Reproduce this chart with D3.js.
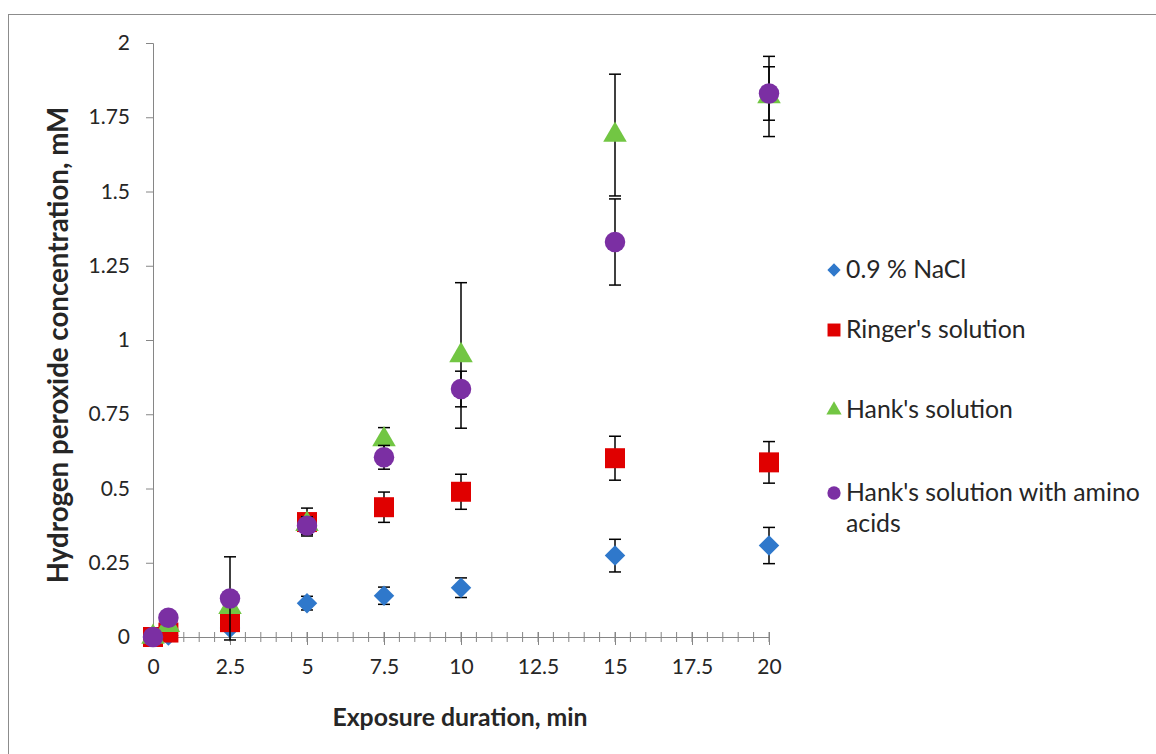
<!DOCTYPE html>
<html>
  <head>
    <meta charset="utf-8">
    <title>Hydrogen peroxide concentration</title>
    <script src="https://d3js.org/d3.v7.min.js"></script>
    <style>
      body { margin: 0; background: #fff; }
      text { font-family: Lato, "Open Sans", sans-serif; fill: #262626; }
    </style>
  </head>
  <body>
    <svg width="1156" height="754"></svg>

    <script>
      // data
      var times = [0, 0.5, 2.5, 5, 7.5, 10, 15, 20];
      var nacl = [0, 0.005, 0.03, 0.114, 0.139, 0.166, 0.274, 0.308];
      var naclErr = [0, 0, 0, 0.023, 0.029, 0.033, 0.055, 0.061];
      var ringer = [0, 0.015, 0.05, 0.387, 0.437, 0.489, 0.602, 0.588];
      var ringerErr = [0, 0, 0, 0.047, 0.051, 0.059, 0.074, 0.07];
      var hank = [0, 0.04, 0.1, 0.38, 0.665, 0.948, 1.69, 1.82];
      var hankErr = [0, 0, 0, 0, 0.04, 0.245, 0.205, 0.135];
      var amino = [0, 0.065, 0.13, 0.375, 0.605, 0.835, 1.33, 1.83];
      var aminoErr = [0, 0, 0.14, 0.03, 0.04, 0.06, 0.145, 0.09];

      var seriesNames = ["0.9 % NaCl", "Ringer's solution", "Hank's solution", "Hank's solution with amino acids"];
      var xTicks = [0, 2.5, 5, 7.5, 10, 12.5, 15, 17.5, 20];
      var yTicks = [0, 0.25, 0.5, 0.75, 1, 1.25, 1.5, 1.75, 2];

      // diamond = square turned 45 degrees
      var series = [
        { name: seriesNames[0], values: nacl, err: naclErr, color: "#2f78cb", shape: d3.symbolSquare, size: 210, rot: 45 },
        { name: seriesNames[1], values: ringer, err: ringerErr, color: "#e00000", shape: d3.symbolSquare, size: 400, rot: 0 },
        { name: seriesNames[2], values: hank, err: hankErr, color: "#72c643", shape: d3.symbolTriangle, size: 240, rot: 0 },
        { name: seriesNames[3], values: amino, err: aminoErr, color: "#7b2fa3", shape: d3.symbolCircle, size: 330, rot: 0 }
      ];

      var svg = d3.select("svg");

      // scale a text's font so that its width is the one seen in the picture
      function fitWidth(t, target) {
        var w = t.node().getComputedTextLength();
        var fs = +t.attr("font-size");
        t.attr("font-size", (fs * target / w).toFixed(1));
      }

      // outer frame
      svg.append("rect")
        .attr("x", 8.5).attr("y", 14.5)
        .attr("width", 1160).attr("height", 760)
        .attr("fill", "none").attr("stroke", "#8c8c8c");

      var xScale = d3.scaleLinear().domain([0, 20]).range([153, 769]);
      var yScale = d3.scaleLinear().domain([0, 2]).range([637, 43]);

      // y axis
      var yAxis = d3.axisLeft(yScale)
        .tickValues(yTicks)
        .tickSize(7)
        .tickPadding(16)
        .tickFormat(function(d) { return String(d); });
      var gy = svg.append("g")
        .attr("transform", "translate(153,0)")
        .call(yAxis);
      gy.select(".domain").attr("stroke", "#868686");
      gy.selectAll(".tick line").attr("stroke", "#868686");
      gy.selectAll(".tick text").attr("font-size", 21).style("fill", "#262626");

      // x axis: minor ticks crossing every 0.5, major ticks every 2.5
      var minor = d3.range(0, 20.01, 0.5);
      svg.append("g").selectAll("line")
        .data(minor)
        .join("line")
        .attr("x1", function(d) { return xScale(d); })
        .attr("x2", function(d) { return xScale(d); })
        .attr("y1", yScale(0) - 5)
        .attr("y2", yScale(0) + 5)
        .attr("stroke", "#868686");

      var xAxis = d3.axisBottom(xScale)
        .tickValues(xTicks)
        .tickSize(8)
        .tickPadding(14)
        .tickFormat(function(d) { return String(d); });
      var gx = svg.append("g")
        .attr("transform", "translate(0," + yScale(0) + ")")
        .call(xAxis);
      gx.select(".domain").attr("stroke", "#868686");
      gx.selectAll(".tick line").attr("stroke", "#868686").attr("y1", -5);
      gx.selectAll(".tick text").attr("font-size", 21).style("fill", "#262626");

      // axis titles
      var xt = svg.append("text")
        .attr("x", 460).attr("y", 726)
        .attr("text-anchor", "middle")
        .attr("font-size", 20).attr("font-weight", "bold")
        .text("Exposure duration, min");
      fitWidth(xt, 255);

      var yt = svg.append("text")
        .attr("transform", "translate(68,345) rotate(-90)")
        .attr("text-anchor", "middle")
        .attr("font-size", 20).attr("font-weight", "bold")
        .text("Hydrogen peroxide concentration, mM");
      fitWidth(yt, 476);

      // error bars + markers, series by series
      series.forEach(function(s) {
        var pts = times.map(function(t, i) { return { x: t, y: s.values[i], e: s.err[i] }; });
        var g = svg.append("g");
        var withErr = pts.filter(function(p) { return p.e > 0; });

        g.selectAll("line.bar").data(withErr).join("line")
          .attr("class", "bar")
          .attr("x1", function(p) { return xScale(p.x); })
          .attr("x2", function(p) { return xScale(p.x); })
          .attr("y1", function(p) { return yScale(p.y + p.e); })
          .attr("y2", function(p) { return yScale(p.y - p.e); })
          .attr("stroke", "#000").attr("stroke-width", 1.5);

        [1, -1].forEach(function(sign) {
          g.selectAll("line.cap" + sign).data(withErr).join("line")
            .attr("x1", function(p) { return xScale(p.x) - 6; })
            .attr("x2", function(p) { return xScale(p.x) + 6; })
            .attr("y1", function(p) { return yScale(p.y + sign * p.e); })
            .attr("y2", function(p) { return yScale(p.y + sign * p.e); })
            .attr("stroke", "#000").attr("stroke-width", 1.5);
        });

        g.selectAll("path").data(pts).join("path")
          .attr("transform", function(p) {
            return "translate(" + xScale(p.x) + "," + yScale(p.y) + ") rotate(" + s.rot + ")";
          })
          .attr("d", d3.symbol().type(s.shape).size(s.size))
          .attr("fill", s.color);
      });

      // legend
      var legendY = [270, 330, 410, 493];
      var legend = svg.append("g");
      var legendTexts = [];
      series.forEach(function(s, i) {
        legend.append("path")
          .attr("transform", "translate(834," + legendY[i] + ") rotate(" + s.rot + ")")
          .attr("d", d3.symbol().type(s.shape).size(s.size * 0.42))
          .attr("fill", s.color);
        var t = legend.append("text")
          .attr("x", 846).attr("y", legendY[i] + 8)
          .attr("font-size", 20);
        if (i === 3) {
          t.append("tspan").attr("x", 846).text("Hank's solution with amino");
          t.append("tspan").attr("x", 846).attr("dy", 30).text("acids");
        } else {
          t.text(s.name);
        }
        legendTexts.push(t);
      });
      // size legend font from the longest line
      var probe = legend.append("text").attr("font-size", 20).text("Hank's solution with amino");
      var lfs = 20 * 294 / probe.node().getComputedTextLength();
      probe.remove();
      legendTexts.forEach(function(t) { t.attr("font-size", lfs.toFixed(1)); });
      legendTexts[3].select("tspan:nth-child(2)").attr("dy", lfs * 1.25);
    </script>
  </body>
</html>
